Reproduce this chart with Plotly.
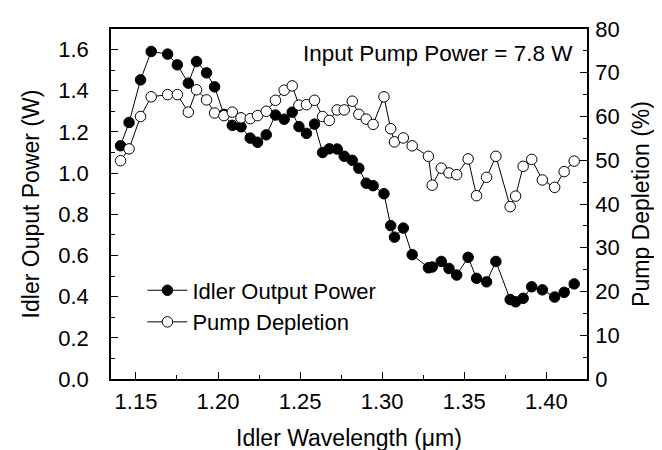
import plotly.graph_objects as go

wavelength = [1.1406, 1.1458, 1.1528, 1.1593, 1.1693, 1.1752, 1.1819, 1.1869, 1.1930, 1.1979,
              1.2036, 1.2087, 1.2140, 1.2196, 1.2241, 1.2294, 1.2350, 1.2403, 1.2452, 1.2493,
              1.2539, 1.2588, 1.2637, 1.2678, 1.2726, 1.2769, 1.2818, 1.2858, 1.2903, 1.2945,
              1.3011, 1.3052, 1.3075, 1.3129, 1.3183, 1.3282, 1.3305, 1.3360, 1.3407, 1.3454,
              1.3524, 1.3575, 1.3636, 1.3693, 1.3780, 1.3813, 1.3859, 1.3911, 1.3976, 1.4051,
              1.4109, 1.4170]

idler_power = [1.133, 1.246, 1.453, 1.591, 1.578, 1.526, 1.437, 1.542, 1.487, 1.419,
               1.285, 1.232, 1.225, 1.170, 1.150, 1.186, 1.282, 1.262, 1.296, 1.226,
               1.193, 1.238, 1.100, 1.118, 1.117, 1.082, 1.062, 1.024, 0.951, 0.939,
               0.900, 0.745, 0.689, 0.733, 0.604, 0.540, 0.544, 0.571, 0.537, 0.505,
               0.591, 0.489, 0.472, 0.571, 0.386, 0.375, 0.392, 0.448, 0.433, 0.398,
               0.421, 0.462]

pump_depletion = [49.9, 52.6, 60.0, 64.5, 65.0, 65.0, 61.0, 66.1, 63.8, 60.8,
                  60.2, 61.0, 59.7, 59.5, 60.2, 61.2, 63.7, 66.0, 67.0, 62.6,
                  62.7, 63.7, 60.0, 59.1, 61.5, 61.5, 63.5, 60.5, 59.4, 58.2,
                  64.5, 57.2, 54.2, 55.1, 53.3, 50.9, 44.3, 48.2, 47.1, 46.7,
                  50.3, 41.9, 46.1, 50.9, 39.4, 41.8, 48.6, 50.2, 45.5, 43.8,
                  47.4, 49.8]

x_ticks = [1.15, 1.20, 1.25, 1.30, 1.35, 1.40]
y_left_ticks = [0.0, 0.2, 0.4, 0.6, 0.8, 1.0, 1.2, 1.4, 1.6]
y_right_ticks = [0, 10, 20, 30, 40, 50, 60, 70, 80]

FONT = "Liberation Sans, Arial, sans-serif"
TICK_SIZE = 22
TITLE_SIZE = 23

fig = go.Figure()
fig.add_trace(go.Scatter(
    x=wavelength, y=pump_depletion, yaxis="y2", name="Pump Depletion",
    mode="lines+markers", legendrank=2,
    line=dict(color="black", width=1),
    marker=dict(symbol="circle", size=10.5, color="white", line=dict(color="black", width=1)),
))
fig.add_trace(go.Scatter(
    x=wavelength, y=idler_power, name="Idler Output Power",
    mode="lines+markers", legendrank=1,
    line=dict(color="black", width=1),
    marker=dict(symbol="circle", size=10.5, color="black", line=dict(color="black", width=1)),
))

axis_common = dict(
    showgrid=False, zeroline=False, showline=True, linecolor="black", linewidth=1.5,
    ticks="inside", ticklen=7, tickwidth=1.2, tickcolor="black", automargin=False,
    tickfont=dict(family=FONT, size=TICK_SIZE, color="black"),
)

fig.update_layout(
    width=662, height=450,
    margin=dict(l=103, r=83, t=21, b=79),
    paper_bgcolor="white", plot_bgcolor="white",
    font=dict(family=FONT, color="black"),
    xaxis=dict(
        **axis_common, range=[1.1348, 1.4248], tickvals=x_ticks, tickformat=".2f",
        mirror=True, ticklabelstandoff=2,
        minor=dict(dtick=0.025, tick0=1.125, ticks="inside", ticklen=4, tickcolor="black"),
        title=dict(text="Idler Wavelength (\u03bcm)", font=dict(family=FONT, size=TITLE_SIZE), standoff=17),
    ),
    yaxis=dict(
        **axis_common, range=[0, 1.7], tickvals=y_left_ticks, tickformat=".1f",
        ticklabelstandoff=16,
        minor=dict(dtick=0.1, tick0=0, ticks="inside", ticklen=4, tickcolor="black"),
        title=dict(text="Idler Ouput Power (W)", font=dict(family=FONT, size=TITLE_SIZE), standoff=12),
    ),
    yaxis2=dict(
        **axis_common, range=[0, 80], tickvals=y_right_ticks, overlaying="y", side="right",
        ticklabelstandoff=2,
        minor=dict(dtick=5, tick0=0, ticks="inside", ticklen=4, tickcolor="black"),
        title=dict(text="Pump Depletion (%)", font=dict(family=FONT, size=TITLE_SIZE), standoff=14),
    ),
    legend=dict(
        x=0.066, y=0.313, xanchor="left", yanchor="top",
        bgcolor="rgba(0,0,0,0)", font=dict(family=FONT, size=22),
        tracegroupgap=0, itemwidth=40,
    ),
    showlegend=True,
    annotations=[dict(
        text="Input Pump Power = 7.8 W", xref="paper", yref="paper",
        x=0.975, y=0.931, xanchor="right", yanchor="middle", showarrow=False,
        font=dict(family=FONT, size=22.5, color="black"),
    )],
)

fig.write_html("out.html")
